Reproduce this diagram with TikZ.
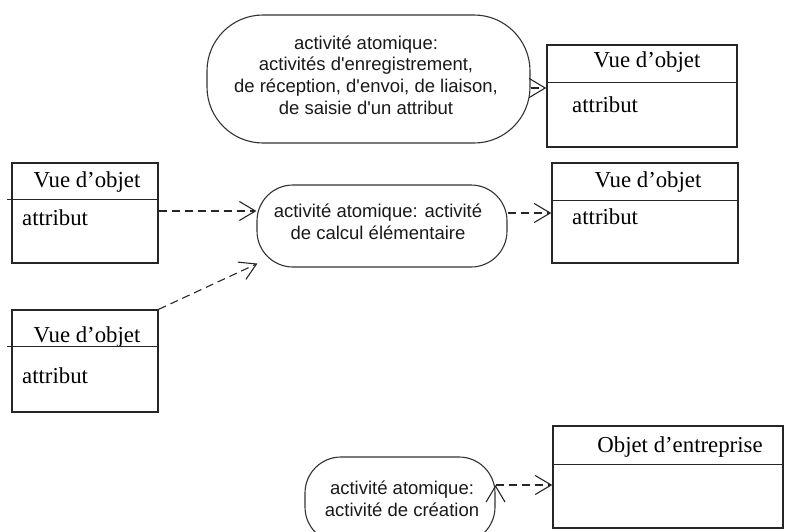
\documentclass[tikz,border=0pt]{standalone}
\usepackage{fontspec}
\setmainfont{Liberation Serif}
\newfontfamily\actfont[Ligatures=TeXOff]{Liberation Sans}
\usetikzlibrary{arrows.meta}
\begin{document}
\begin{tikzpicture}[x=1pt,y=-1pt]
			\tikzstyle{VO}=[rectangle,draw=black!85,line width=1.4pt,inner sep=0pt]
			\tikzstyle{ACT}=[rectangle,draw=black!80,line width=1.1pt,inner sep=0pt]
			\tikzstyle{TXT}=[align=center,inner sep=0pt,text=black!90,font=\actfont\fontsize{18.5}{21.7}\selectfont]
			\tikzstyle{TTL}=[anchor=base,inner sep=0pt,font=\fontsize{22.8}{26}\selectfont]
			\tikzstyle{ATT}=[anchor=base west,inner sep=0pt,font=\fontsize{22.8}{26}\selectfont]
			\tikzstyle{dep}=[draw=black!85,line width=1.1pt,dash pattern=on 8pt off 5pt,-{Straight Barb[length=16pt,width=19pt]}]
			\tikzstyle{sep}=[draw=black!85,line width=1.1pt]
			\useasboundingbox (0,0) rectangle (787,531);
			\begin{scope}
			\node[ACT,rounded corners=56pt,minimum width=323pt,minimum height=128pt] (act-1) at (368.5,79) {};
			\node[ACT,rounded corners=36pt,minimum width=250pt,minimum height=82pt] (act-2) at (382,226) {};
			\node[ACT,rounded corners=36pt,minimum width=190pt,minimum height=86pt] (act-3) at (400,500) {};
			\node[TXT] (act-1-t) at (366,75)  {activité atomique:\\activités d'enregistrement,\\de réception, d'envoi, de liaison,\\de saisie d'un attribut};
			\node[TXT] (act-2-t) at (378,222) {activité atomique: activité\\de calcul élémentaire};
			\node[TXT] (act-3-t) at (402,499) {activité atomique:\\activité de création};

			\node[VO,minimum width=190pt,minimum height=102pt] (vue-1) at (642,96) {};
			\node[VO,minimum width=146pt,minimum height=100pt] (vue-2) at (85,213) {};
			\node[VO,minimum width=146pt,minimum height=102pt] (vue-3) at (85,361) {};
			\node[VO,minimum width=186pt,minimum height=100pt] (vue-4) at (645,213) {};
			\node[VO,minimum width=230pt,minimum height=102pt] (ent-1) at (668,477) {};

			\node[TTL] (vue-1-t) at (647,67)  {Vue d’objet};
			\node[ATT] (vue-1-a) at (572,112) {attribut};
			\node[TTL] (vue-2-t) at (87,187)  {Vue d’objet};
			\node[ATT] (vue-2-a) at (22,225)  {attribut};
			\node[TTL] (vue-3-t) at (87,342)  {Vue d’objet};
			\node[ATT] (vue-3-a) at (22,383)  {attribut};
			\node[TTL] (vue-4-t) at (648,187) {Vue d’objet};
			\node[ATT] (vue-4-a) at (572,224) {attribut};
			\node[TTL] (ent-1-t) at (680,452) {Objet d’entreprise};
			\end{scope}

			\path[sep]
			([yshift=-38pt]vue-1.north west) edge ([yshift=-38pt]vue-1.north east)
			([yshift=-37pt,xshift=-4pt]vue-2.north west) edge ([yshift=-37pt]vue-2.north east)
			([yshift=-37pt,xshift=-4pt]vue-3.north west) edge ([yshift=-37pt]vue-3.north east)
			([yshift=-38pt]vue-4.north west) edge ([yshift=-38pt]vue-4.north east)
			([yshift=-39pt]ent-1.north west) edge ([yshift=-39pt]ent-1.north east)
			;

			\path[dep]
			([yshift=-9pt]act-1.east) edge ([yshift=8pt]vue-1.west)
			([yshift=2pt]vue-2.east) edge ([yshift=2pt]vue-2.east -| act-2.west)
			(vue-3.north east) edge ([yshift=4pt,xshift=1pt]act-2.south west)
			(act-2.east |- vue-4.west) edge (vue-4.west)
			([yshift=-8pt]act-3.east |- ent-1.west) edge ([yshift=-8pt]ent-1.west)
			;
		\end{tikzpicture}
\end{document}
